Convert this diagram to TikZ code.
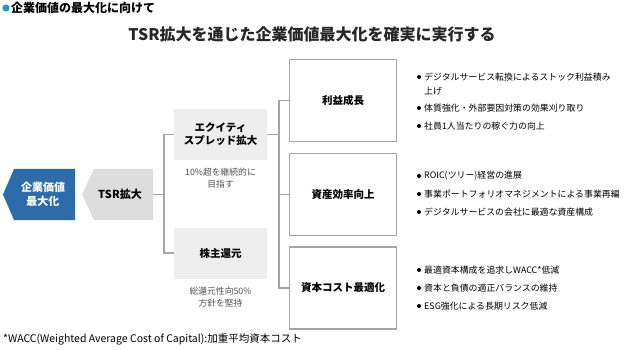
\documentclass[tikz,border=0pt]{standalone}
\usepackage{fontspec}
\setmainfont{Noto Sans CJK JP}
\definecolor{blueA}{RGB}{44,108,170}
\definecolor{grayA}{RGB}{221,221,221}
\definecolor{grayB}{RGB}{238,238,238}
\definecolor{lineG}{RGB}{165,165,165}
\definecolor{txtG}{RGB}{80,80,80}
\definecolor{cyanA}{RGB}{20,160,190}
\tikzset{
  conn/.style={draw=lineG,line width=1.3pt},
  lbox/.style={fill=grayB,minimum width=93pt,minimum height=51pt,inner sep=0pt,align=center,font=\fontsize{10.5}{13}\selectfont\bfseries},
  rbox/.style={draw=lineG,line width=1.3pt,fill=white,minimum width=107pt,minimum height=82pt,inner sep=0pt,align=center,font=\fontsize{10.5}{13}\selectfont\bfseries},
  note/.style={align=center,text=txtG,font=\fontsize{8.8}{12}\selectfont,inner sep=0pt},
  bul/.style={anchor=west,inner sep=0pt,font=\fontsize{8.9}{11}\selectfont},
}
\begin{document}
\begin{tikzpicture}[x=1pt,y=-1pt]
\useasboundingbox (0,0) rectangle (624,350);
% header
\fill[cyanA] (6,8) circle (3.6);
\node[anchor=west,inner sep=0pt,font=\fontsize{12}{14}\selectfont\bfseries] (hdr) at (11,8) {企業価値の最大化に向けて};
\node[inner sep=0pt,font=\fontsize{16}{18}\selectfont\bfseries,text=black!85] (title) at (312,34) {TSR拡大を通じた企業価値最大化を確実に実行する};
% arrows
\fill[blueA] (3,194.5) -- (14,169) -- (75,169) -- (75,220) -- (14,220) -- cycle;
\node[text=white,align=center,font=\fontsize{11}{14}\selectfont\bfseries,inner sep=0pt] (ev) at (43,194.5) {企業価値\\最大化};
\fill[grayA] (82,194.5) -- (94,169) -- (153,169) -- (153,220) -- (94,220) -- cycle;
\node[inner sep=0pt,font=\fontsize{11}{14}\selectfont\bfseries] (tsrt) at (120,194.5) {TSR拡大};
\coordinate (tsr) at (153,194.5);
% left boxes
\node[lbox] (eq) at (220.5,134.5) {エクイティ\\スプレッド拡大};
\node[note] (eqn) at (220.5,178) {10\%超を継続的に\\目指す};
\node[lbox] (sr) at (220.5,253) {株主還元};
\node[note] (srn) at (220.5,297) {総還元性向50\%\\方針を堅持};
% right boxes
\node[rbox] (b1) at (343,100.5) {利益成長};
\node[rbox] (b2) at (343,194.5) {資産効率向上};
\node[rbox] (b3) at (343,288) {資本コスト最適化};
% connectors
\coordinate (j1) at (164,194.5);
\coordinate (j2) at (279,134.5);
\draw[conn] (tsr) -- (j1);
\draw[conn] (eq.west) -| (j1) |- (sr.west);
\draw[conn] (eq.east) -- (j2);
\draw[conn] (b1.west) -| (j2);
\draw[conn] (b3.west) -| (j2);
\draw[conn] (b2.west) -- (b2.west -| j2);
% bullets
\foreach \y in {77,108,126,176,194,212,270,288,306} \fill (419,\y) circle (2);
\node[bul] (t1) at (424,77) {デジタルサービス転換によるストック利益積み};
\node[bul] (t1b) at (424,91) {上げ};
\node[bul] (t2) at (424,108) {体質強化・外部要因対策の効果刈り取り};
\node[bul] (t3) at (424,126) {社員1人当たりの稼ぐ力の向上};
\node[bul] (t4) at (424,176) {ROIC(ツリー)経営の進展};
\node[bul] (t5) at (424,194) {事業ポートフォリオマネジメントによる事業再編};
\node[bul] (t6) at (424,212) {デジタルサービスの会社に最適な資産構成};
\node[bul] (t7) at (424,270) {最適資本構成を追求しWACC*低減};
\node[bul] (t8) at (424,288) {資本と負債の適正バランスの維持};
\node[bul] (t9) at (424,306) {ESG強化による長期リスク低減};
% footnote
\node[anchor=west,inner sep=0pt,font=\fontsize{10.5}{12}\selectfont] (fn) at (3,339) {*WACC(Weighted Average Cost of Capital):加重平均資本コスト};
\end{tikzpicture}
\end{document}
